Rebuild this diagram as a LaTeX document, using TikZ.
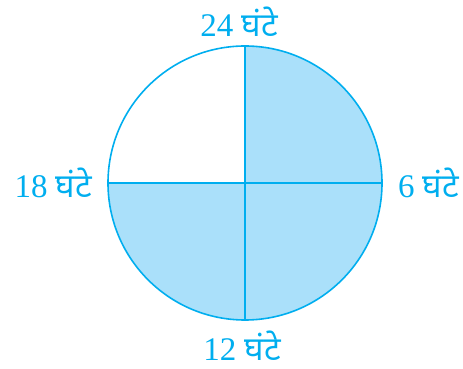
\documentclass[tikz,border=0pt]{standalone}
\usepackage{fontspec}
\setmainfont{Liberation Serif}
\newfontfamily\hindi[Script=Devanagari]{Noto Sans}
\usetikzlibrary{positioning}
\definecolor{dialblue}{RGB}{0,174,239}
\definecolor{dialfill}{RGB}{170,224,250}

\begin{document}
\begin{tikzpicture}[x=1pt, y=1pt,
  dial/.style={circle, draw=dialblue, line width=1.6pt, minimum size=274pt, inner sep=0pt},
  part/.style={fill=dialfill},
  spoke/.style={draw=dialblue, line width=1.6pt},
  hour/.style={text=dialblue, font=\fontsize{33}{38}\selectfont, inner sep=0pt}
]
\useasboundingbox (0,0) rectangle (463,369);
\coordinate (c) at (245,186);
% three shaded quarters
\fill[part] (c) -- ++(0,137) arc[start angle=90, end angle=-180, radius=137] -- cycle;
\node[dial] (clock) at (c) {};
\draw[spoke] (clock.north) -- (clock.south);
\draw[spoke] (clock.west) -- (clock.east);

\node[hour, above=8pt of clock, xshift=-6pt] (h24) {24 {\hindi घंटे}};
\node[hour, right=15pt of clock] (h6) {6 {\hindi घंटे}};
\node[hour, below=10pt of clock, xshift=-3pt] (h12) {12 {\hindi घंटे}};
\node[hour, left=15pt of clock] (h18) {18 {\hindi घंटे}};
\end{tikzpicture}
\end{document}
